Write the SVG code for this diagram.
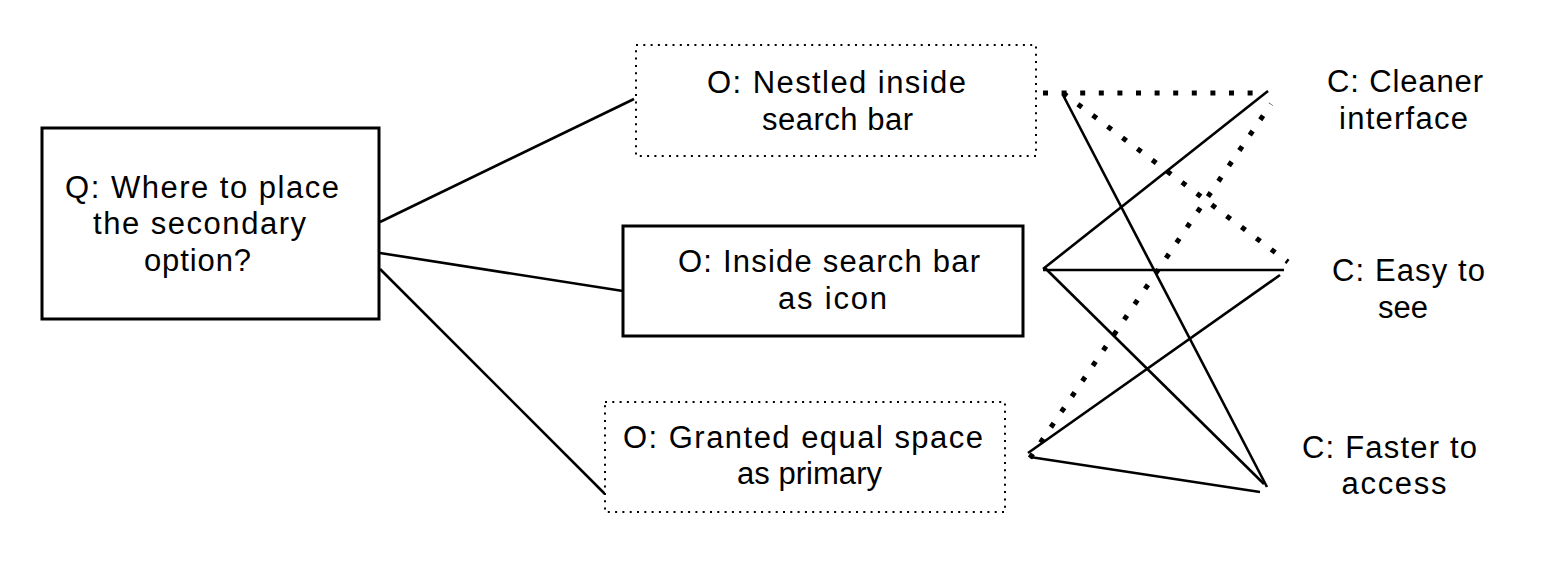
<svg xmlns="http://www.w3.org/2000/svg" width="1546" height="568" viewBox="0 0 1546 568">
<style>
  .bg{fill:#ffffff}
  .box{fill:#ffffff;stroke:#000;stroke-width:3}
  .dbox{fill:#ffffff;stroke:#000;stroke-width:2;stroke-dasharray:2 5.3}
  .lbl{font-family:"Liberation Sans",Arial,Helvetica,sans-serif;font-size:31px;fill:#000;text-anchor:middle}
  .ln{stroke:#000;stroke-width:2.6;fill:none}
  .dl{stroke:#000;stroke-width:5;fill:none;stroke-dasharray:5 13.6}
</style>
<rect class="bg" x="0" y="0" width="1546" height="568"/>
<g id="connectors">
  <line class="ln" x1="380" y1="222" x2="634" y2="99"/>
  <line class="ln" x1="380" y1="253" x2="623" y2="291"/>
  <line class="ln" x1="380" y1="269" x2="605" y2="494"/>
  <line class="dl" x1="1043" y1="93" x2="1262" y2="93"/>
  <line class="dl" x1="1063" y1="93" x2="1288" y2="262"/>
  <line class="dl" x1="1030" y1="458" x2="1271" y2="104"/>
  <line class="ln" x1="1063" y1="95" x2="1267" y2="487"/>
  <line class="ln" x1="1043" y1="269" x2="1268" y2="91"/>
  <line class="ln" x1="1043" y1="270" x2="1284" y2="270"/>
  <line class="ln" x1="1045" y1="268" x2="1264" y2="484"/>
  <line class="ln" x1="1028" y1="453" x2="1280" y2="275"/>
  <line class="ln" x1="1030" y1="457" x2="1260" y2="492"/>
</g>
<g id="q">
  <rect class="box" x="42" y="128" width="337" height="191"/>
  <text class="lbl" x="202" y="198" textLength="274" lengthAdjust="spacing">Q: Where to place</text>
  <text class="lbl" x="199.5" y="234" textLength="213" lengthAdjust="spacing">the secondary</text>
  <text class="lbl" x="197.5" y="271" textLength="107" lengthAdjust="spacing">option?</text>
</g>
<g id="o-nestled">
  <rect class="dbox" x="636" y="45" width="400" height="111"/>
  <text class="lbl" x="836.5" y="93" textLength="259" lengthAdjust="spacing">O: Nestled inside</text>
  <text class="lbl" x="837.5" y="130" textLength="151" lengthAdjust="spacing">search bar</text>
</g>
<g id="o-inside">
  <rect class="box" x="623" y="226" width="400" height="110"/>
  <text class="lbl" x="829" y="272" textLength="302" lengthAdjust="spacing">O: Inside search bar</text>
  <text class="lbl" x="832.5" y="309" textLength="109" lengthAdjust="spacing">as icon</text>
</g>
<g id="o-granted">
  <rect class="dbox" x="605" y="402" width="400" height="110"/>
  <text class="lbl" x="803" y="448" textLength="360" lengthAdjust="spacing">O: Granted equal space</text>
  <text class="lbl" x="809.5" y="484" textLength="145" lengthAdjust="spacing">as primary</text>
</g>
<g id="c-cleaner">
  <text class="lbl" x="1405" y="92" textLength="156" lengthAdjust="spacing">C: Cleaner</text>
  <text class="lbl" x="1403.5" y="129" textLength="129" lengthAdjust="spacing">interface</text>
</g>
<g id="c-easy">
  <text class="lbl" x="1408.5" y="281" textLength="153" lengthAdjust="spacing">C: Easy to</text>
  <text class="lbl" x="1403" y="318" textLength="50" lengthAdjust="spacing">see</text>
</g>
<g id="c-faster">
  <text class="lbl" x="1389.5" y="458" textLength="175" lengthAdjust="spacing">C: Faster to</text>
  <text class="lbl" x="1394" y="494" textLength="105" lengthAdjust="spacing">access</text>
</g>
</svg>
